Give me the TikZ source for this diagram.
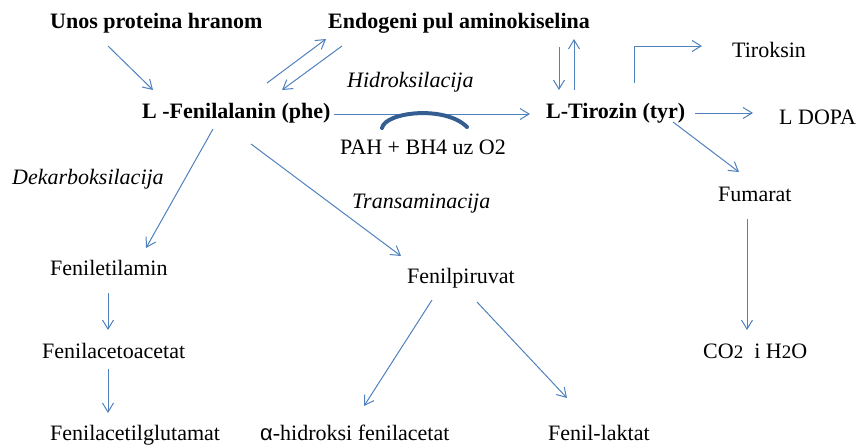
\documentclass[tikz,border=0pt]{standalone}
\usepackage{fontspec}
\setmainfont{Liberation Serif}
\setsansfont{Liberation Sans}
\usetikzlibrary{arrows.meta}
\definecolor{arrowblue}{RGB}{79,129,189}
\definecolor{arcblue}{RGB}{52,94,145}
\begin{document}
\begin{tikzpicture}[x=1pt,y=-1pt,
  lbl/.style={anchor=base west, inner sep=0pt, font=\fontsize{22}{26}\selectfont},
  blbl/.style={lbl, font=\fontsize{22}{26}\selectfont\bfseries},
  ilbl/.style={lbl, font=\fontsize{22}{26}\selectfont\itshape},
  arr/.style={draw=arrowblue, line width=1pt, -{Straight Barb[length=9pt,width=11pt]}}]
\useasboundingbox (0,0) rectangle (859,445);
% nodes
\node[blbl] (unos) at (50,28) {Unos proteina hranom};
\node[blbl] (endo) at (328,28) {Endogeni pul aminokiselina};
\node[blbl] (phe) at (142,118) {L -Fenilalanin (phe)};
\node[blbl] (tyr) at (546,118) {L-Tirozin (tyr)};
\node[lbl] (tirok) at (732,57) {Tiroksin};
\node[lbl] (dopa) at (779,124) {L DOPA};
\node[ilbl] (hidro) at (347,87) {Hidroksilacija};
\node[lbl] (pah) at (340,154) {PAH + BH4 uz O2};
\node[ilbl] (dekarb) at (12,184) {Dekarboksilacija};
\node[ilbl] (trans) at (352,208) {Transaminacija};
\node[lbl] (fenet) at (50,275) {Feniletilamin};
\node[lbl] (fenaa) at (42,358) {Fenilacetoacetat};
\node[lbl] (fenag) at (50,440) {Fenilacetilglutamat};
\node[lbl] (ahid) at (260,440) {{\sffamily α}-hidroksi fenilacetat};
\node[lbl] (fenpir) at (407,283) {Fenilpiruvat};
\node[lbl] (fenlak) at (548,440) {Fenil-laktat};
\node[lbl] (fum) at (718,201) {Fumarat};
\node[lbl] (co2) at (703,358) {CO{\fontsize{19}{22}\selectfont 2}\ \ i H{\fontsize{19}{22}\selectfont 2}O};
% connectors
\draw[arr] ([shift={(58,18)}]unos.base west) -- ([shift={(11,-28)}]phe.base west);
\draw[arr] ([shift={(125,-35)}]phe.base west) -- ([shift={(-2,11)}]endo.base west);
\draw[arr] ([shift={(14,18)}]endo.base west) -- ([shift={(140,-28)}]phe.base west);
\draw[arr] ([shift={(231,19)}]endo.base west) -- ([shift={(13,-28)}]tyr.base west);
\draw[arr] ([shift={(28,-28)}]tyr.base west) -- ([shift={(246,11)}]endo.base west);
\draw[arr] ([shift={(88,-35)}]tyr.base west) |- ([shift={(-30,-11)}]tirok.base west);
\draw[arr] ([shift={(149,-5)}]tyr.base west) -- ([shift={(-26,-11)}]dopa.base west);
\draw[arr] ([shift={(127,4)}]tyr.base west) -- ([shift={(21,-29)}]fum.base west);
\draw[arr] ([shift={(29,18)}]fum.base west) -- ([shift={(44,-28)}]co2.base west);
\draw[arr] ([shift={(192,-4)}]phe.base west) -- ([shift={(-16,-4)}]tyr.base west);
\draw[arr] ([shift={(71,11)}]phe.base west) -- ([shift={(96,-27)}]fenet.base west);
\draw[arr] ([shift={(109,26)}]phe.base west) -- ([shift={(-6,-27)}]fenpir.base west);
\draw[arr] ([shift={(58,18)}]fenet.base west) -- ([shift={(66,-28)}]fenaa.base west);
\draw[arr] ([shift={(66,11)}]fenaa.base west) -- ([shift={(58,-27)}]fenag.base west);
\draw[arr] ([shift={(25,17)}]fenpir.base west) -- ([shift={(104,-34)}]ahid.base west);
\draw[arr] ([shift={(70,19)}]fenpir.base west) -- ([shift={(19,-42)}]fenlak.base west);
% cofactor arc
\draw[arcblue, line width=4pt, line cap=round] ([shift={(42,-26)}]pah.base west) .. controls ([shift={(45,-42)}]pah.base west) and ([shift={(105,-49)}]pah.base west) .. ([shift={(127,-27)}]pah.base west);
\end{tikzpicture}
\end{document}
